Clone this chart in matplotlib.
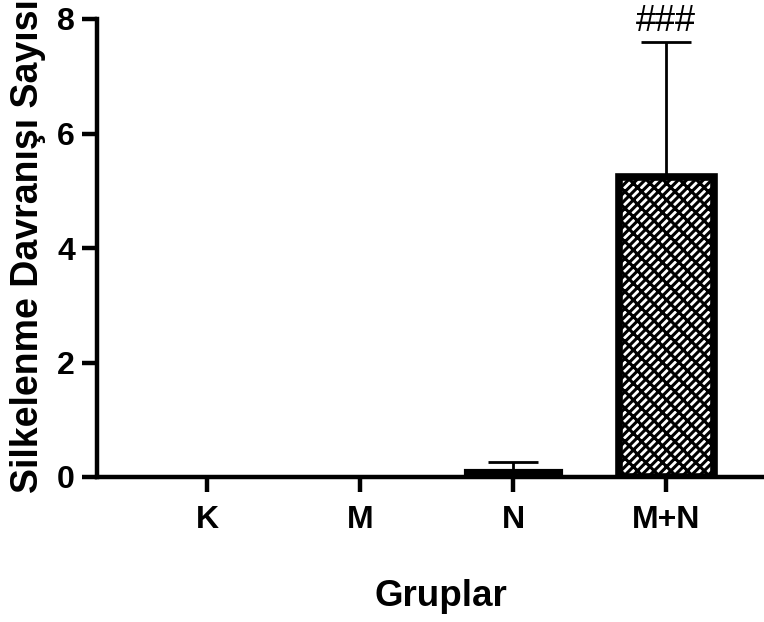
import numpy as np
import matplotlib.pyplot as plt

groups = ["K", "M", "N", "M+N"]
means = [0.0, 0.0, 0.1, 5.24]
sds = [0.0, 0.0, 0.16, 2.36]
yticks = [0, 2, 4, 6, 8]

plt.rcParams["font.family"] = ["Liberation Sans", "DejaVu Sans"]
plt.rcParams["font.weight"] = "bold"
plt.rcParams["axes.labelweight"] = "bold"
plt.rcParams["hatch.linewidth"] = 2.2

fig = plt.figure(figsize=(7.64, 6.22), dpi=100)
# axes box in pixels: left spine at x=97, y from 19 to 477
ax = fig.add_axes([97 / 764, 145 / 622, 667 / 764, 458 / 622])

x = np.arange(len(groups))
hatches = ["", "", "", "////\\\\"]
fills = ["white", "white", "black", "white"]
for i in range(len(groups)):
    if means[i] > 0:
        ax.bar(x[i], means[i], width=0.62, color=fills[i], edgecolor="black",
               linewidth=5.5 if hatches[i] else 3, hatch=hatches[i], zorder=2)
        ax.errorbar(x[i], means[i], yerr=[[0], [sds[i]]], color="black",
                    elinewidth=2, capsize=18, capthick=2, zorder=1)

ax.text(x[3], means[3] + sds[3] + 0.05, "###", ha="center", va="bottom",
        fontsize=26, fontweight="normal", clip_on=False)

ax.set_xlim(-0.72, 3.64)
ax.set_ylim(0, 8)
ax.set_xticks(x)
ax.set_xticklabels(groups)
ax.set_yticks(yticks)
ax.tick_params(axis="both", width=3.2, length=11)
ax.tick_params(axis="x", labelsize=23, pad=9)
ax.tick_params(axis="y", labelsize=23, pad=5)

for side in ["top", "right"]:
    ax.spines[side].set_visible(False)
for side in ["left", "bottom"]:
    ax.spines[side].set_linewidth(3.2)

ax.set_ylabel("Silkelenme Davranışı Sayısı", fontsize=27)
ax.yaxis.set_label_coords(-0.077, 0.505)
ax.set_xlabel("Gruplar", fontsize=26.5)
ax.xaxis.set_label_coords(0.515, -0.222)

fig.savefig("out.png", dpi=100)
